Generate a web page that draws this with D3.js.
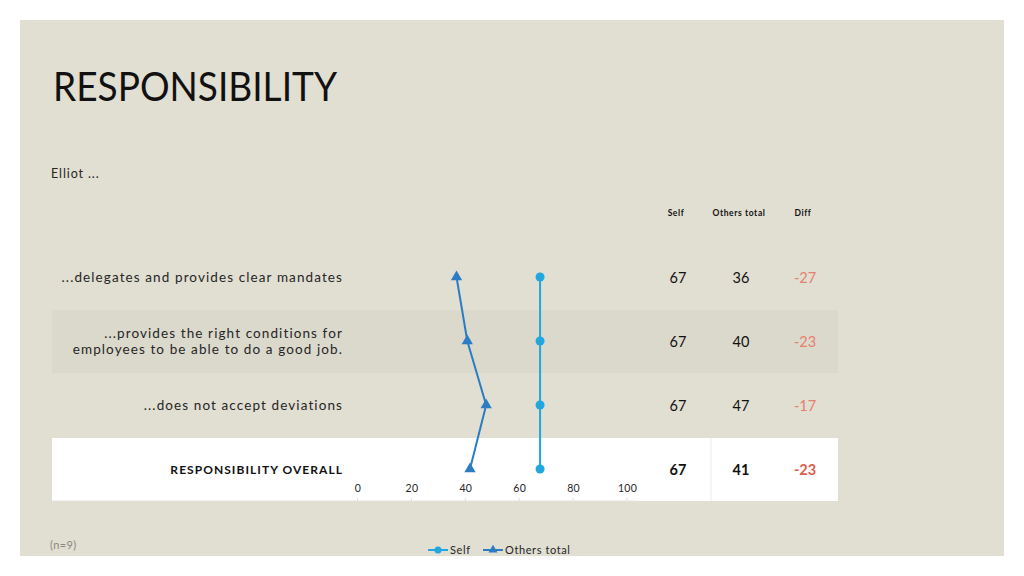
<!DOCTYPE html>
<html>
<head>
<meta charset="utf-8">
<script src="https://cdn.jsdelivr.net/npm/d3@7"></script>
<style>
html,body{margin:0;padding:0;background:#fff;}
svg{display:block;}
text{font-family:"Century Gothic","Lato","Noto Sans",sans-serif;}
</style>
</head>
<body>
<svg id="chart" width="1024" height="576"></svg>
<script>
const title = "RESPONSIBILITY";
const subtitle = "Elliot ...";
const categories = [
  ["...delegates and provides clear mandates"],
  ["...provides the right conditions for", "employees to be able to do a good job."],
  ["...does not accept deviations"],
  ["RESPONSIBILITY OVERALL"]
];
const selfValues = [67, 67, 67, 67];
const othersValues = [36, 40, 47, 41];
const diffValues = [-27, -23, -17, -23];
const tableHeaders = ["Self", "Others total", "Diff"];
const xTicks = [0, 20, 40, 60, 80, 100];
const seriesNames = ["Self", "Others total"];
const footnote = "(n=9)";

const svg = d3.select("#chart");
const C = {bg:"#e1ded2", band:"#dbd8cc", self:"#22a6df", others:"#2b7cc3", text:"#262626", diff:"#e5806f", diffBold:"#dc5d4c"};

// slide background
svg.append("rect").attr("x",20).attr("y",20).attr("width",984).attr("height",536).attr("fill",C.bg);

svg.append("text").attr("x",53).attr("y",101).attr("font-size",40).attr("fill","#111")
  .attr("textLength",284).attr("lengthAdjust","spacingAndGlyphs").text(title);
svg.append("text").attr("x",51).attr("y",178).attr("font-size",12.5).attr("letter-spacing",0.9).attr("fill",C.text).text(subtitle);

const idx = d3.range(categories.length);
const y = d3.scalePoint().domain(idx).range([277, 469]);
const x = d3.scaleLinear().domain([0, 100]).range([359.5, 629]);
const rowH = 64;

// row bands
svg.append("rect").attr("x",52).attr("y",y(1)-rowH/2+1).attr("width",786).attr("height",rowH-1).attr("fill",C.band);
svg.append("rect").attr("x",52).attr("y",y(3)-rowH/2+1).attr("width",786).attr("height",rowH-1).attr("fill","#fff");
svg.append("line").attr("x1",711).attr("x2",711).attr("y1",y(3)-rowH/2+1).attr("y2",y(3)+rowH/2).attr("stroke","#ececec");

// axis base line with ticks
const axisY = 501;
svg.append("line").attr("x1",52).attr("x2",636).attr("y1",axisY).attr("y2",axisY).attr("stroke","#e6e4dc");
svg.selectAll(".tk").data(xTicks).enter().append("line")
  .attr("x1",d=>x(d)-2).attr("x2",d=>x(d)-2).attr("y1",axisY-3).attr("y2",axisY).attr("stroke","#e0ded6");
svg.selectAll(".tl").data(xTicks).enter().append("text")
  .attr("x",d=>x(d)-1.5).attr("y",492).attr("text-anchor","middle").attr("font-size",10.5).attr("letter-spacing",0.3).attr("fill",C.text).text(d=>d);

// category labels
categories.forEach((lines,i)=>{
  const bold = i===categories.length-1;
  const t = svg.append("text").attr("text-anchor","end").attr("font-size",bold?12:13.5)
    .attr("font-weight",bold?"bold":"normal").attr("letter-spacing",bold?1.05:1.1).attr("fill",bold?"#111":C.text);
  const lh = 16;
  const y0 = y(i) - (lines.length-1)*lh/2 + 4.5;
  lines.forEach((l,j)=>t.append("tspan").attr("x",343).attr("y",y0+j*lh).text(l));
});

// lines
const lineSelf = d3.line().x(d=>x(d)).y((d,i)=>y(i));
svg.append("path").datum(selfValues).attr("d",lineSelf).attr("fill","none").attr("stroke",C.self).attr("stroke-width",2);
svg.append("path").datum(othersValues).attr("d",lineSelf).attr("fill","none").attr("stroke",C.others).attr("stroke-width",2);
svg.selectAll(".pt").data(selfValues).enter().append("circle")
  .attr("cx",d=>x(d)).attr("cy",(d,i)=>y(i)).attr("r",4.5).attr("fill",C.self);
const tri = d3.symbol().type(d3.symbolTriangle).size(55);
svg.selectAll(".tr").data(othersValues).enter().append("path")
  .attr("d",tri).attr("transform",(d,i)=>`translate(${x(d)},${y(i)})`).attr("fill",C.others);

// table
const colX = [677, 740, 804];
tableHeaders.forEach((h,k)=>svg.append("text").attr("x",colX[k]-1).attr("y",216).attr("text-anchor","middle")
  .attr("font-size",8.5).attr("letter-spacing",0.6).attr("font-weight","bold").attr("fill","#111").text(h));
idx.forEach(i=>{
  const bold = i===categories.length-1;
  const vals = [selfValues[i], othersValues[i], diffValues[i]];
  vals.forEach((v,k)=>svg.append("text").attr("x",colX[k]+1).attr("y",y(i)+5.5).attr("text-anchor","middle")
    .attr("font-size",14.5).attr("font-weight",bold?"bold":"normal")
    .attr("fill",k===2?(bold?C.diffBold:C.diff):"#111").text(v));
});

// footnote
svg.append("text").attr("x",50).attr("y",549).attr("font-size",11).attr("letter-spacing",0.4).attr("fill","#8a8880").text(footnote);

// legend
const lg = svg.append("g");
const lgItems = [{name:seriesNames[0],x:428,c:C.self,shape:"c"},{name:seriesNames[1],x:483,c:C.others,shape:"t"}];
lgItems.forEach(it=>{
  lg.append("line").attr("x1",it.x).attr("x2",it.x+20).attr("y1",550).attr("y2",550).attr("stroke",it.c).attr("stroke-width",2);
  if(it.shape==="c") lg.append("circle").attr("cx",it.x+10).attr("cy",550).attr("r",3.5).attr("fill",it.c);
  else lg.append("path").attr("d",d3.symbol().type(d3.symbolTriangle).size(35)).attr("transform",`translate(${it.x+10},550)`).attr("fill",it.c);
  lg.append("text").attr("x",it.x+22).attr("y",554).attr("font-size",11).attr("letter-spacing",0.6).attr("fill",C.text).text(it.name);
});
</script>
</body>
</html>
